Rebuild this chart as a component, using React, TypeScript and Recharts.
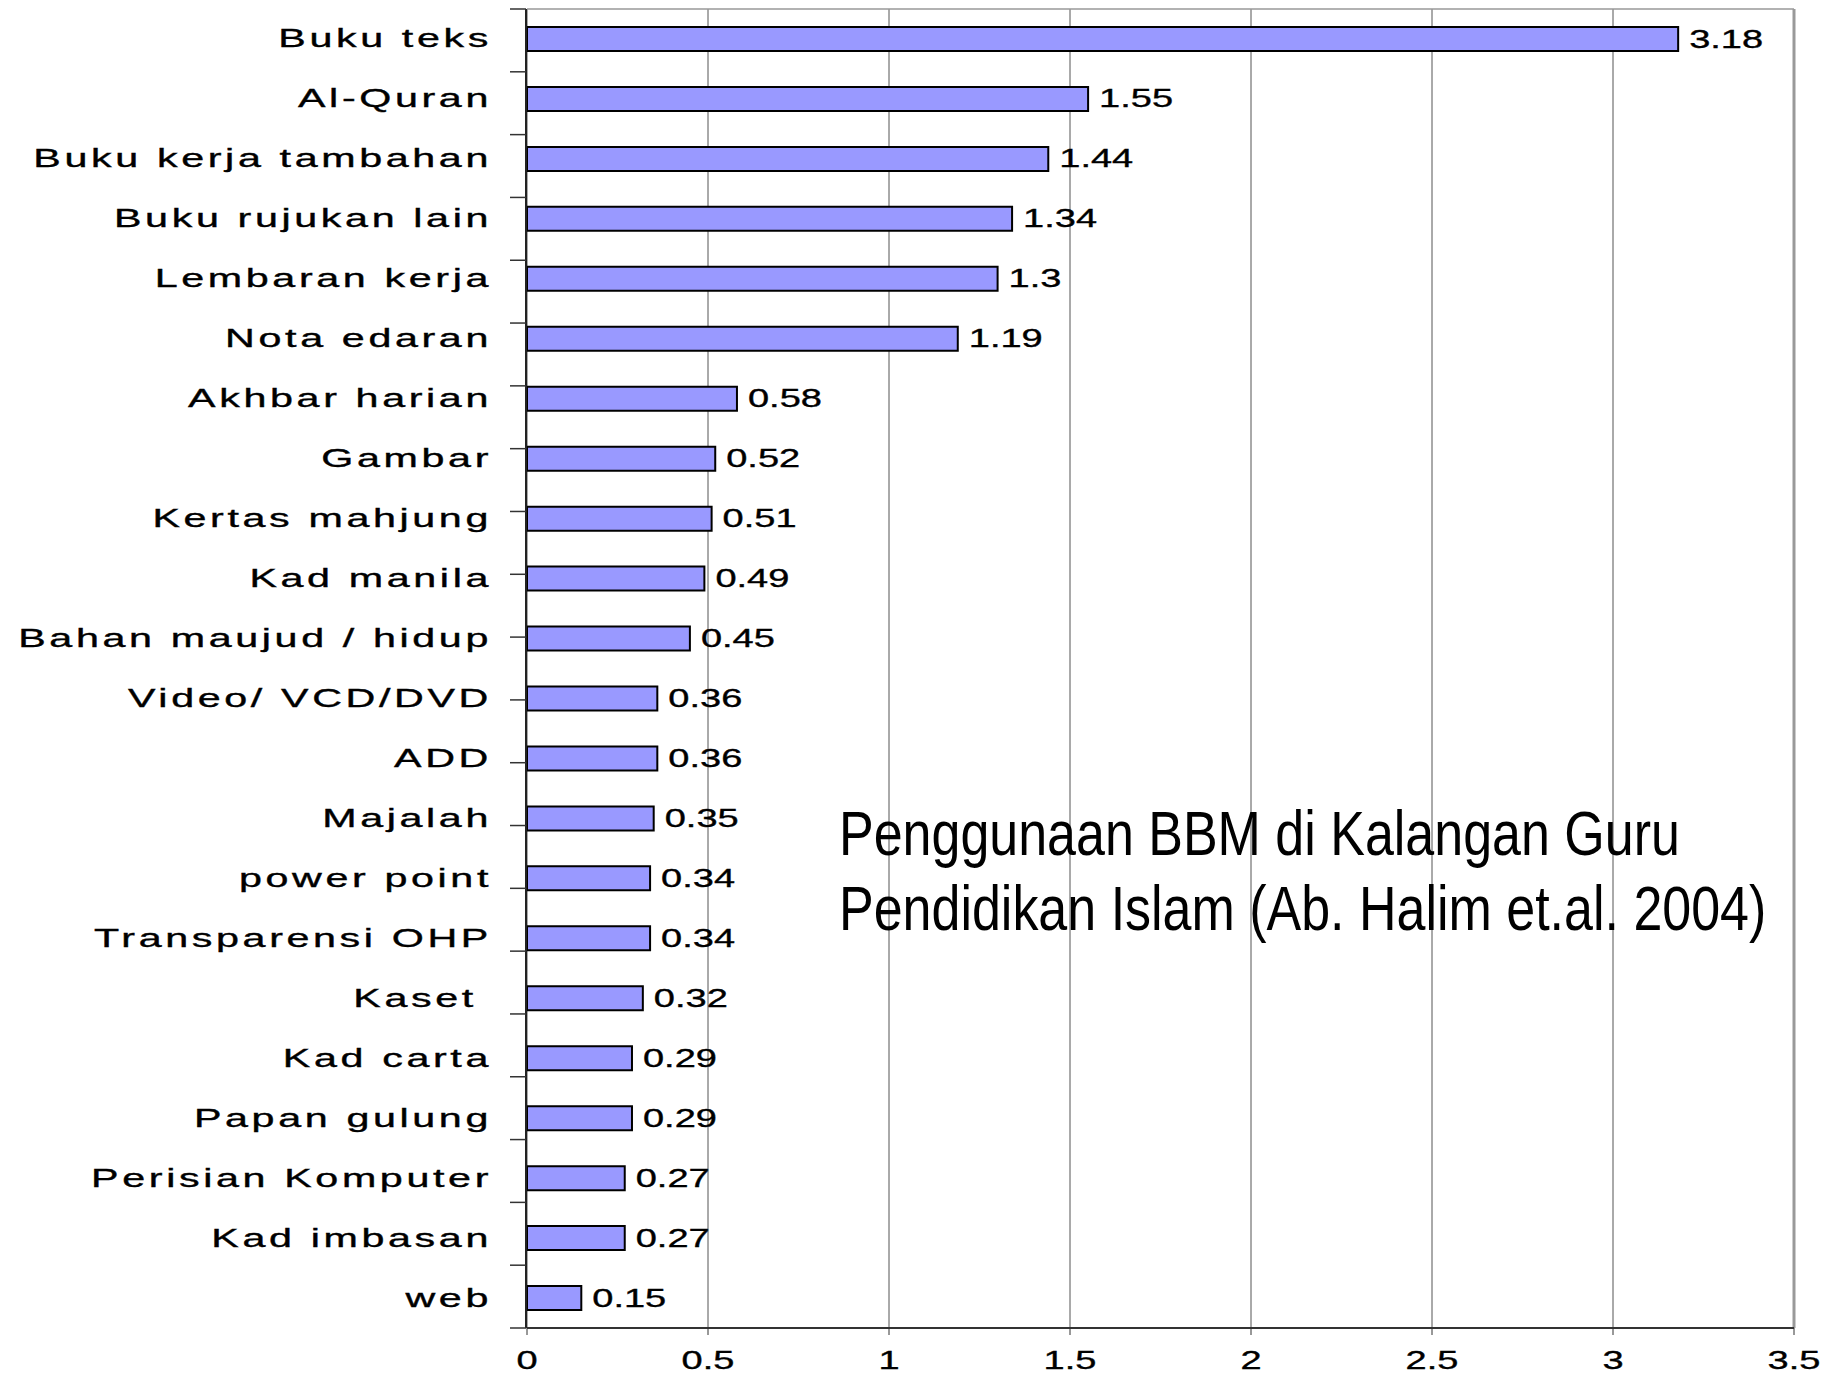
import { BarChart, Bar, XAxis, YAxis, CartesianGrid, ReferenceLine, LabelList } from 'recharts';

const categories = [
  'Buku teks',
  'Al-Quran',
  'Buku kerja tambahan',
  'Buku rujukan lain',
  'Lembaran kerja',
  'Nota edaran',
  'Akhbar harian',
  'Gambar',
  'Kertas mahjung',
  'Kad manila',
  'Bahan maujud / hidup',
  'Video/ VCD/DVD',
  'ADD',
  'Majalah',
  'power point',
  'Transparensi OHP',
  'Kaset ',
  'Kad carta',
  'Papan gulung',
  'Perisian Komputer',
  'Kad imbasan',
  'web',
];

const values = [
  3.18, 1.55, 1.44, 1.34, 1.3, 1.19, 0.58, 0.52, 0.51, 0.49, 0.45, 0.36, 0.36, 0.35, 0.34,
  0.34, 0.32, 0.29, 0.29, 0.27, 0.27, 0.15,
];

const xTicks = [0, 0.5, 1, 1.5, 2, 2.5, 3, 3.5];
const rowEdges = [0, 1, 2, 3, 4, 5, 6, 7, 8, 9, 10, 11, 12, 13, 14, 15, 16, 17, 18, 19, 20, 21, 22];

const data = categories.map((name, i) => ({ name, value: values[i] }));

const FONT = '"Liberation Sans", Arial, sans-serif';

// category labels sit left of the plot; x is the plot's left edge
const CategoryTick = ({ x, y, payload }: any) => (
  <g transform={`translate(${x - 35},${y})`}>
    <text
      transform="scale(1.65,1)"
      textAnchor="end"
      dy={8.5}
      fontSize={25}
      letterSpacing={2.2}
      fontFamily={FONT}
      fill="#000"
      stroke="#000"
      strokeWidth={0.35}
      style={{ whiteSpace: 'pre' }}
    >
      {payload.value}
    </text>
  </g>
);

const ValueTick = ({ x, y, payload }: any) => (
  <g transform={`translate(${x},${y})`}>
    <text
      transform="scale(1.52,1)"
      textAnchor="middle"
      dy={34}
      fontSize={25}
      fontFamily={FONT}
      fill="#000"
      stroke="#000"
      strokeWidth={0.35}
    >
      {payload.value}
    </text>
  </g>
);

const renderValueLabel = ({ x, y, width, height, value }: any) => (
  <g transform={`translate(${x + width + 11},${y + height / 2})`}>
    <text
      transform="scale(1.52,1)"
      dy={8.5}
      fontSize={25}
      fontFamily={FONT}
      fill="#000"
      stroke="#000"
      strokeWidth={0.35}
    >
      {value}
    </text>
  </g>
);

export default function App() {
  return (
    <div
      style={{
        position: 'absolute',
        left: 0,
        top: 0,
        width: 1827,
        height: 1376,
        background: '#fff',
        overflow: 'hidden',
      }}
    >
      <BarChart
        width={1827}
        height={1376}
        data={data}
        layout="vertical"
        margin={{ top: 8, right: 33, left: 0, bottom: 0 }}
      >
        <CartesianGrid horizontal={false} stroke="#555" strokeWidth={1} />
        <XAxis
          type="number"
          domain={[0, 3.5]}
          ticks={xTicks}
          interval={0}
          height={48}
          tickSize={7}
          tickMargin={0}
          tickLine={{ stroke: '#333', strokeWidth: 1 }}
          axisLine={{ stroke: '#333', strokeWidth: 2 }}
          tick={<ValueTick />}
        />
        <XAxis
          xAxisId="top"
          orientation="top"
          type="number"
          domain={[0, 3.5]}
          ticks={xTicks}
          height={1}
          tickSize={0}
          tickLine={false}
          tickFormatter={() => ''}
          axisLine={{ stroke: '#999', strokeWidth: 1.5 }}
        />
        <YAxis
          type="category"
          dataKey="name"
          width={1}
          interval={0}
          tickSize={0}
          tickMargin={0}
          tickLine={false}
          axisLine={false}
          tick={<CategoryTick />}
        />
        <YAxis
          yAxisId="edges"
          type="number"
          domain={[0, 22]}
          allowDataOverflow
          ticks={rowEdges}
          interval={0}
          width={526}
          tickSize={16}
          tickFormatter={() => ''}
          tickLine={{ stroke: '#333', strokeWidth: 1.5 }}
          axisLine={{ stroke: '#222', strokeWidth: 2 }}
        />
        <ReferenceLine x={3.5} stroke="#999" strokeWidth={3} />
        <Bar
          dataKey="value"
          fill="#9999ff"
          stroke="#000"
          strokeWidth={2}
          barSize={24}
          isAnimationActive={false}
        >
          <LabelList dataKey="value" content={renderValueLabel} />
        </Bar>
      </BarChart>
      <div
        style={{
          position: 'absolute',
          left: 839,
          top: 796,
          fontFamily: FONT,
          fontSize: 63,
          lineHeight: '75px',
          color: '#000',
          whiteSpace: 'nowrap',
          transform: 'scaleX(0.825)',
          transformOrigin: 'left top',
        }}
      >
        <div>Penggunaan BBM di Kalangan Guru</div>
        <div>Pendidikan Islam (Ab. Halim et.al. 2004)</div>
      </div>
    </div>
  );
}
